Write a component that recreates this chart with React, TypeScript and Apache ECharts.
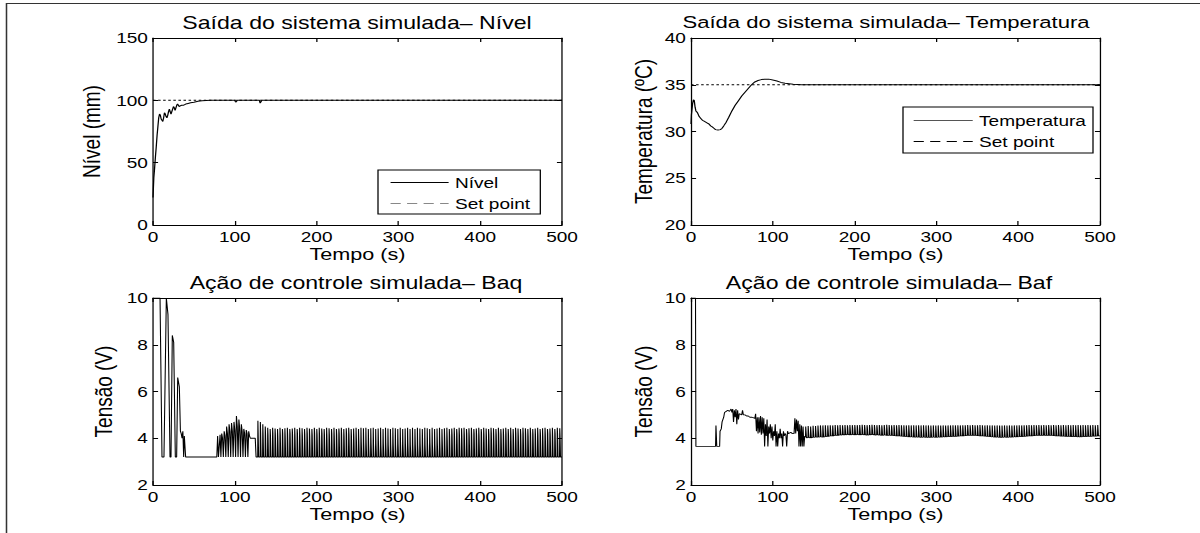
import React, { useEffect, useRef } from "react";
import * as echarts from "echarts";

// The reference figure is stretched horizontally; we render narrower and scale in x.
const STRETCH = 1.27;
const PAGE_W = 1200;
const PAGE_H = 533;
const CHART_W = PAGE_W / STRETCH;
const FONT = '"Liberation Sans", Arial, Helvetica, sans-serif';

// ---------- texts ----------
const panelTitles = [
  "Saída do sistema simulada– Nível",
  "Saída do sistema simulada– Temperatura",
  "Ação de controle simulada– Baq",
  "Ação de controle simulada– Baf",
];
const yAxisNames = ["Nível (mm)", "Temperatura (ºC)", "Tensão (V)", "Tensão (V)"];
const xAxisName = "Tempo (s)";

// ---------- axis ranges [min, max, interval] ----------
const timeRange = [0, 500, 100];
const yRanges = [
  [0, 150, 50],
  [20, 40, 5],
  [2, 10, 2],
  [2, 10, 2],
];

// ---------- data ----------
const nivelData: [number, number][] = [
  [0, 22], [0.5, 30], [1, 38], [2, 46], [3, 55], [4, 63], [5, 72], [6, 79], [7, 86], [8, 89],
  [9, 88], [10, 85], [11, 84], [12, 83], [13, 86], [14, 90], [15, 89], [16, 87], [17, 86], [18, 88],
  [19, 91], [20, 93], [21, 91], [22, 89], [23, 91], [24, 93], [25, 95], [26, 94], [27, 92], [28, 94],
  [29, 96], [30, 97], [31, 96], [32, 95], [33, 95.5], [35, 96], [37, 96], [40, 97], [43, 97.5],
  [46, 98], [50, 98.5], [55, 99.2], [60, 99.6], [65, 99.9], [70, 100], [100, 100], [101, 98.5],
  [102, 99], [103, 100], [130, 100], [131, 97.8], [132, 98.8], [133, 100], [500, 100],
];
const nivelSetPoint: [number, number][] = [[0, 100], [500, 100]];

const temperaturaData: [number, number][] = [
  [0, 30.8], [0.5, 31.8], [1, 32.2], [2, 33.0], [3, 33.4], [4, 33.3], [5, 32.6], [6, 32.2],
  [7, 32.1], [8, 32.0], [10, 31.6], [12, 31.4], [14, 31.2], [16, 31.1], [18, 31.0], [20, 30.9],
  [22, 30.8], [24, 30.6], [26, 30.5], [28, 30.35], [30, 30.2], [33, 30.15], [36, 30.2], [38, 30.35],
  [40, 30.6], [43, 31.0], [46, 31.5], [50, 32.2], [54, 32.8], [58, 33.3], [62, 33.8], [66, 34.2],
  [70, 34.6], [74, 35.0], [78, 35.3], [82, 35.45], [86, 35.55], [90, 35.6], [95, 35.6], [100, 35.5],
  [105, 35.4], [110, 35.25], [115, 35.15], [120, 35.1], [125, 35.05], [135, 35.0], [500, 35.0],
];
const temperaturaSetPoint: [number, number][] = [[0, 35], [500, 35]];

const baqEarly: [number, number][] = [
  [0, 10], [8.6, 10], [11, 3.2], [13.4, 3.2], [16.3, 10], [18.3, 9.3], [20.8, 3.2], [22, 3.2],
  [23.6, 8.4], [25.3, 8.1], [27.3, 3.2], [28.9, 3.2], [30.2, 6.6], [32.2, 6.2], [33.5, 4.3],
  [34.5, 4.2], [35.5, 4.0], [36.5, 4.3], [37.5, 3.2], [38.3, 4.1], [39.9, 3.2], [78, 3.2],
  [79, 4.1], [80, 3.2], [81, 3.2], [82, 4.15], [83, 3.2], [84, 4.2], [85, 4.0], [86, 3.2],
  [87, 4.3], [88, 4.1], [89, 3.2], [90, 4.5], [91, 4.2], [92, 3.2], [93, 4.6], [94, 4.3],
  [95, 3.2], [96, 4.65], [97, 4.3], [98, 3.2], [99, 4.7], [100, 4.35], [101, 3.2], [102, 4.95],
  [103, 4.5], [104, 3.2], [105, 4.8], [106, 4.4], [107, 3.2], [108, 4.6], [109, 4.3], [110, 3.2],
  [111, 4.4], [112, 4.2], [113, 3.2], [114, 4.35], [115, 4.2], [116, 3.2], [117, 4.3], [118, 4.1],
  [119, 4.0], [121, 4.0], [123, 4.0], [125, 4.0], [126, 3.2], [127, 3.2],
];
// Steady oscillation read cycle by cycle: one peak, one plateau and one trough per cycle.
const baqCycleStart = 128;
const baqCyclePeriod = 3;
const baqCycleHigh = [
  4.75, 4.7, 4.6, 4.5,
  4.45, 4.4, 4.45, 4.42, 4.4, 4.45, 4.4, 4.43, 4.45, 4.4, 4.42, 4.45, 4.4, 4.45, 4.43, 4.4, 4.45, 4.42, 4.4, 4.45,
  4.4, 4.45, 4.42, 4.4, 4.45, 4.43, 4.4, 4.45, 4.4, 4.42, 4.45, 4.4, 4.43, 4.45, 4.4, 4.42, 4.45, 4.4, 4.45, 4.43,
  4.45, 4.4, 4.43, 4.45, 4.4, 4.42, 4.45, 4.4, 4.45, 4.42, 4.4, 4.45, 4.43, 4.4, 4.45, 4.4, 4.42, 4.45, 4.4, 4.45,
  4.4, 4.45, 4.42, 4.4, 4.45, 4.43, 4.4, 4.45, 4.4, 4.42, 4.45, 4.4, 4.43, 4.45, 4.4, 4.42, 4.45, 4.4, 4.45, 4.43,
  4.45, 4.4, 4.43, 4.45, 4.4, 4.42, 4.45, 4.4, 4.45, 4.42, 4.4, 4.45, 4.43, 4.4, 4.45, 4.4, 4.42, 4.45, 4.4, 4.45,
  4.4, 4.45, 4.42, 4.4, 4.45, 4.43, 4.4, 4.45, 4.4, 4.42, 4.45, 4.4, 4.43, 4.45, 4.4, 4.42, 4.45, 4.4, 4.45, 4.43,
];
const baqCycleMid = [
  4.1, 4.2, 4.15, 4.15,
  4.15, 4.1, 4.2, 4.15, 4.1, 4.15, 4.2, 4.1, 4.15, 4.2, 4.15, 4.1, 4.2, 4.15, 4.1, 4.15, 4.2, 4.1, 4.15, 4.2,
  4.15, 4.1, 4.2, 4.15, 4.1, 4.15, 4.2, 4.1, 4.15, 4.2, 4.15, 4.1, 4.2, 4.15, 4.1, 4.05, 4.0, 3.9, 3.85, 3.8,
  3.8, 3.75, 3.8, 3.7, 3.75, 3.8, 3.7, 3.75, 3.8, 3.7, 3.75, 3.8, 3.7, 3.75, 3.8, 3.7, 3.75, 3.8, 3.7, 3.75,
  3.8, 3.7, 3.75, 3.8, 3.7, 3.75, 3.8, 3.7, 3.75, 3.8, 3.85, 3.9, 4.0, 4.05, 4.1, 4.15, 4.1, 4.2, 4.15, 4.1,
  4.15, 4.2, 4.1, 4.15, 4.2, 4.15, 4.1, 4.2, 4.15, 4.1, 4.15, 4.2, 4.1, 4.15, 4.2, 4.15, 4.1, 4.2, 4.15, 4.1,
  4.15, 4.2, 4.1, 4.15, 4.2, 4.15, 4.1, 4.2, 4.15, 4.1, 4.15, 4.2, 4.1, 4.15, 4.2, 4.15, 4.1, 4.2, 4.15, 4.1,
];
const baqCycleLow = 3.2;

const bafEarly: [number, number][] = [
  [0, 10], [5.5, 10], [6, 3.65], [30, 3.65], [30.5, 4.55], [31.5, 3.65], [35, 3.65], [35.5, 4.3],
  [37, 4.4], [38, 4.7], [40, 4.9], [41, 5.1], [43, 5.15], [45, 5.2], [47, 5.15], [49, 5.25],
  [50, 5.1], [51, 5.25], [52, 4.7], [53, 5.2], [54, 4.9], [55, 5.25], [56, 4.6], [57, 5.2],
  [58, 4.8], [59, 5.05], [60, 5.05], [62, 5.0], [63, 5.2], [64, 5.0], [66, 5.0], [68, 4.95],
  [70, 4.95], [72, 4.9], [74, 4.9], [76, 4.88], [78, 4.85], [79, 5.05], [80, 4.3], [81, 4.9],
  [82, 4.2], [83, 4.9], [84, 4.25], [85, 4.95], [86, 4.15], [87, 4.9], [88, 4.2], [89, 4.85],
  [90, 3.65], [91, 4.6], [92, 4.1], [93, 4.8], [94, 3.65], [95, 4.5], [96, 4.2], [97, 4.6],
  [98, 4.0], [99, 4.5], [100, 3.9], [101, 4.3], [102, 4.1], [103, 4.6], [104, 3.65], [105, 4.3],
  [106, 3.65], [107, 4.2], [108, 4.0], [109, 4.4], [110, 4.0], [111, 4.2], [112, 3.65], [113, 4.3],
  [114, 4.1], [115, 4.2], [116, 4.15], [117, 3.65], [118, 4.3], [119, 4.2], [120, 4.2], [122, 4.25],
  [124, 4.2], [126, 4.2], [127, 4.85], [128, 4.2], [129, 4.8], [130, 4.3], [131, 4.75], [132, 3.65],
  [133, 4.6], [134, 3.65], [135, 4.55], [136, 3.65], [137, 4.5], [138, 3.65], [139, 4.1], [140, 4.05],
];
const bafCycleStart = 140;
const bafCyclePeriod = 3;
const bafCycleHigh = [
  4.5, 4.52, 4.5, 4.53, 4.52, 4.54, 4.55, 4.55, 4.56, 4.55, 4.56, 4.55, 4.57, 4.56, 4.57, 4.56, 4.57, 4.56, 4.57, 4.56,
  4.57, 4.56, 4.57, 4.58, 4.57, 4.56, 4.57, 4.58, 4.57, 4.56, 4.57, 4.56, 4.57, 4.58, 4.57, 4.56, 4.57, 4.56, 4.57, 4.56,
  4.56, 4.55, 4.56, 4.55, 4.56, 4.55, 4.56, 4.55, 4.56, 4.55, 4.55, 4.54, 4.55, 4.54, 4.55, 4.54, 4.55, 4.54, 4.55, 4.55,
  4.56, 4.55, 4.56, 4.55, 4.56, 4.56, 4.57, 4.56, 4.57, 4.56, 4.56, 4.57, 4.56, 4.55, 4.56, 4.55, 4.55, 4.54, 4.55, 4.54,
  4.54, 4.55, 4.54, 4.55, 4.54, 4.55, 4.55, 4.56, 4.55, 4.56, 4.56, 4.57, 4.56, 4.57, 4.56, 4.57, 4.56, 4.57, 4.56, 4.57,
  4.56, 4.57, 4.56, 4.57, 4.56, 4.57, 4.56, 4.57, 4.56, 4.57, 4.56, 4.57, 4.56, 4.57, 4.56, 4.57, 4.56, 4.57, 4.56, 4.57,
];
const bafCycleMid = [
  4.3, 4.32, 4.3, 4.33, 4.35, 4.34, 4.36, 4.35, 4.36, 4.38, 4.38, 4.4, 4.4, 4.42, 4.4, 4.42, 4.42, 4.44, 4.42, 4.44,
  4.44, 4.45, 4.44, 4.45, 4.44, 4.45, 4.44, 4.45, 4.44, 4.45, 4.44, 4.42, 4.44, 4.43, 4.44, 4.42, 4.43, 4.42, 4.4, 4.4,
  4.38, 4.36, 4.36, 4.35, 4.34, 4.35, 4.34, 4.33, 4.34, 4.33, 4.33, 4.32, 4.33, 4.32, 4.33, 4.34, 4.34, 4.35, 4.35, 4.36,
  4.36, 4.37, 4.38, 4.38, 4.39, 4.4, 4.4, 4.4, 4.41, 4.4, 4.4, 4.39, 4.38, 4.37, 4.36, 4.35, 4.34, 4.33, 4.33, 4.32,
  4.32, 4.33, 4.32, 4.33, 4.34, 4.34, 4.35, 4.36, 4.36, 4.37, 4.38, 4.38, 4.39, 4.4, 4.4, 4.41, 4.4, 4.41, 4.4, 4.41,
  4.4, 4.4, 4.39, 4.39, 4.38, 4.38, 4.37, 4.37, 4.36, 4.36, 4.36, 4.36, 4.35, 4.36, 4.36, 4.37, 4.37, 4.38, 4.38, 4.38,
];
const bafCycleLow = [
  4.02, 4.03, 4.02, 4.04, 4.05, 4.05, 4.06, 4.05, 4.07, 4.08, 4.1, 4.1, 4.12, 4.12, 4.14, 4.15, 4.15, 4.16, 4.15, 4.16,
  4.15, 4.16, 4.15, 4.16, 4.15, 4.14, 4.15, 4.16, 4.14, 4.15, 4.14, 4.13, 4.14, 4.12, 4.13, 4.12, 4.11, 4.1, 4.1, 4.09,
  4.08, 4.07, 4.06, 4.06, 4.05, 4.05, 4.05, 4.04, 4.05, 4.04, 4.04, 4.04, 4.05, 4.04, 4.05, 4.05, 4.06, 4.06, 4.07, 4.07,
  4.08, 4.08, 4.09, 4.1, 4.1, 4.11, 4.12, 4.12, 4.12, 4.12, 4.11, 4.1, 4.1, 4.09, 4.08, 4.07, 4.06, 4.05, 4.05, 4.04,
  4.04, 4.05, 4.04, 4.05, 4.05, 4.06, 4.06, 4.07, 4.07, 4.08, 4.09, 4.1, 4.1, 4.11, 4.12, 4.12, 4.12, 4.13, 4.12, 4.12,
  4.12, 4.11, 4.1, 4.1, 4.09, 4.09, 4.08, 4.08, 4.07, 4.07, 4.07, 4.06, 4.06, 4.07, 4.07, 4.08, 4.08, 4.09, 4.09, 4.1,
];

// ---------- layout (page pixels) ----------
const panels = [
  { left: 153, top: 38, right: 562, bottom: 225 },
  { left: 691, top: 38, right: 1100, bottom: 225 },
  { left: 153, top: 298, right: 562, bottom: 485 },
  { left: 691, top: 298, right: 1100, bottom: 485 },
];
const titleStyle = [
  { x: 357, y: 22, size: 18.2 },
  { x: 886, y: 22, size: 17.4 },
  { x: 356, y: 282, size: 18.2 },
  { x: 889, y: 282, size: 18.2 },
];
const yNameGap = [39, 28, 29, 28];
// sample times (fraction of a period) of peak, plateau start/end and trough in one cycle
const cycleShape = [0.08, 0.2, 0.3, 0.38];
const sx = (v: number) => v / STRETCH;
const black = "#000";

function cyclePoints(start: number, period: number, highs: number[], mids: number[], lows: number[] | number) {
  const pts: number[][] = [];
  highs.forEach((h, i) => {
    const t0 = start + i * period;
    const lo = Array.isArray(lows) ? lows[i] : lows;
    pts.push([t0, lo]);
    pts.push([t0 + cycleShape[0] * period, h]);
    pts.push([t0 + cycleShape[1] * period, mids[i]]);
    pts.push([t0 + cycleShape[2] * period, mids[i]]);
    pts.push([t0 + cycleShape[3] * period, lo]);
  });
  const lastLow = Array.isArray(lows) ? lows[lows.length - 1] : lows;
  pts.push([start + highs.length * period, lastLow]);
  return pts;
}

function buildOption() {
  const grids = panels.map((p) => ({
    left: sx(p.left),
    top: p.top,
    width: sx(p.right - p.left),
    height: p.bottom - p.top,
    containLabel: false,
  }));

  const lineStyle = { color: black, width: 1 };
  const xAxes: any[] = [];
  const yAxes: any[] = [];
  panels.forEach((_, g) => {
    const common = {
      gridIndex: g,
      type: "value",
      min: timeRange[0],
      max: timeRange[1],
      interval: timeRange[2],
      splitLine: { show: false },
      axisLine: { show: true, onZero: false, lineStyle },
      axisTick: { show: true, inside: true, length: 4, lineStyle },
    };
    xAxes.push({
      ...common,
      position: "bottom",
      axisLabel: { color: black, fontSize: 15, fontFamily: FONT, margin: 4 },
      name: xAxisName,
      nameLocation: "middle",
      nameGap: 20,
      nameTextStyle: { color: black, fontSize: 17, fontFamily: FONT },
    });
    xAxes.push({ ...common, position: "top", axisLabel: { show: false } });

    const [ymin, ymax, yint] = yRanges[g];
    const ycommon = {
      gridIndex: g,
      type: "value",
      min: ymin,
      max: ymax,
      interval: yint,
      splitLine: { show: false },
      axisLine: { show: true, onZero: false, lineStyle },
      axisTick: { show: true, inside: true, length: 4, lineStyle },
    };
    yAxes.push({
      ...ycommon,
      position: "left",
      axisLabel: { color: black, fontSize: 15, fontFamily: FONT, margin: 4 },
      name: yAxisNames[g],
      nameLocation: "middle",
      nameGap: yNameGap[g],
      nameTextStyle: { color: black, fontSize: 19, fontFamily: FONT },
    });
    yAxes.push({ ...ycommon, position: "right", axisLabel: { show: false } });
  });

  const lineSeries = (name: string, g: number, data: number[][], dashed = false, width = 1) => ({
    type: "line",
    name,
    xAxisIndex: 2 * g,
    yAxisIndex: 2 * g,
    data,
    symbol: "none",
    showSymbol: false,
    clip: true,
    lineStyle: { color: black, width, type: dashed ? [2, 2] : "solid" },
    itemStyle: { color: black },
    emphasis: { disabled: true },
  });

  const baqData = [...baqEarly, ...cyclePoints(baqCycleStart, baqCyclePeriod, baqCycleHigh, baqCycleMid, baqCycleLow)];
  const bafData = [...bafEarly, ...cyclePoints(bafCycleStart, bafCyclePeriod, bafCycleHigh, bafCycleMid, bafCycleLow)];

  const series = [
    lineSeries("Nível", 0, nivelData),
    lineSeries("Set point", 0, nivelSetPoint, true),
    lineSeries("Temperatura", 1, temperaturaData),
    lineSeries("Set point", 1, temperaturaSetPoint, true),
    lineSeries("Baq", 2, baqData, false, 0.85),
    lineSeries("Baf", 3, bafData, false, 0.85),
  ];

  const hiddenSymbol = { opacity: 0 };
  const legendCommon = {
    orient: "vertical",
    borderColor: black,
    borderWidth: 1,
    backgroundColor: "#fff",
    itemHeight: 10,
    itemGap: 6,
    selectedMode: false,
    itemStyle: hiddenSymbol,
    textStyle: { color: black, fontSize: 15, fontFamily: FONT },
  };
  const legend = [
    {
      ...legendCommon,
      data: [
        { name: "Nível", itemStyle: hiddenSymbol, lineStyle: { color: black, width: 1, type: "solid" } },
        { name: "Set point", itemStyle: hiddenSymbol, lineStyle: { color: "#888", width: 1, type: [8, 5] } },
      ],
      left: sx(378),
      top: 170,
      itemWidth: 45.7,
      padding: [5, 8, 3, 9.4],
    },
    {
      ...legendCommon,
      data: [
        { name: "Temperatura", itemStyle: hiddenSymbol, lineStyle: { color: "#555", width: 1, type: "solid" } },
        { name: "Set point", itemStyle: hiddenSymbol, lineStyle: { color: black, width: 1, type: [8, 5] } },
      ],
      left: sx(903),
      top: 107,
      itemWidth: 46.5,
      padding: [6, 5.5, 4, 7.9],
    },
  ];

  const titles = panelTitles.map((t, i) => ({
    type: "text",
    x: sx(titleStyle[i].x),
    y: titleStyle[i].y,
    silent: true,
    style: {
      text: t,
      fill: black,
      fontSize: titleStyle[i].size,
      fontFamily: FONT,
      align: "center",
      verticalAlign: "middle",
      textAlign: "center",
      textVerticalAlign: "middle",
    },
  }));

  const frame = [
    { type: "line", silent: true, shape: { x1: sx(6), y1: 3.5, x2: CHART_W, y2: 3.5 }, style: { stroke: "#333", lineWidth: 1.2 } },
    { type: "line", silent: true, shape: { x1: sx(6.5), y1: 3, x2: sx(6.5), y2: PAGE_H }, style: { stroke: "#333", lineWidth: 1.2 } },
  ];

  return {
    animation: false,
    backgroundColor: "#fff",
    grid: grids,
    xAxis: xAxes,
    yAxis: yAxes,
    legend,
    series,
    graphic: [...frame, ...titles],
  };
}

export default function App() {
  const ref = useRef<HTMLDivElement>(null);
  useEffect(() => {
    if (!ref.current) return;
    const chart = echarts.init(ref.current, undefined, { renderer: "svg" });
    chart.setOption(buildOption() as any);
    return () => chart.dispose();
  }, []);
  return (
    <div
      ref={ref}
      style={{
        position: "absolute",
        left: 0,
        top: 0,
        width: CHART_W,
        height: PAGE_H,
        transform: `scaleX(${STRETCH})`,
        transformOrigin: "0 0",
      }}
    />
  );
}
